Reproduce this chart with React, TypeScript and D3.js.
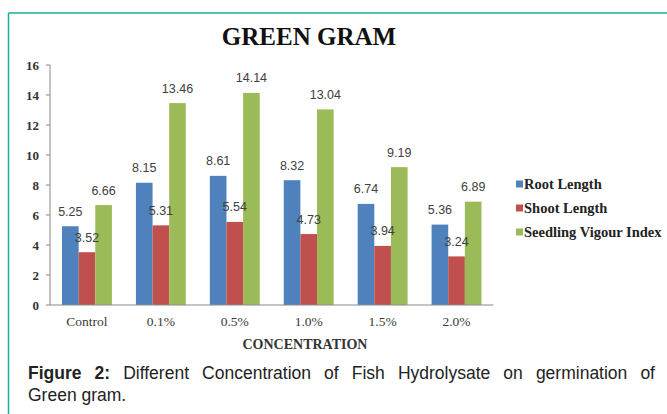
import { useEffect, useRef } from "react";
import * as d3 from "d3";

// Chart data
const categories = ["Control", "0.1%", "0.5%", "1.0%", "1.5%", "2.0%"];
const seriesNames = ["Root Length", "Shoot Length", "Seedling Vigour Index"];
const rootLength = [5.25, 8.15, 8.61, 8.32, 6.74, 5.36];
const shootLength = [3.52, 5.31, 5.54, 4.73, 3.94, 3.24];
const vigourIndex = [6.66, 13.46, 14.14, 13.04, 9.19, 6.89];
const yTicks = [0, 2, 4, 6, 8, 10, 12, 14, 16];
const colors = ["#4f81bd", "#c0504d", "#9bbb59"];

const seriesValues = [rootLength, shootLength, vigourIndex];

const W = 667;
const H = 414;
const serif = "'Liberation Serif', 'DejaVu Serif', serif";
const sans = "'Liberation Sans', Arial, sans-serif";

const App = () => {
  const captionRef = useRef<SVGTextElement>(null);

  const x0 = d3.scaleBand().domain(categories).range([50, 493.5]);
  const x1 = d3
    .scaleBand()
    .domain(seriesNames)
    .range([12, x0.bandwidth() - 12]);
  const y = d3.scaleLinear().domain([0, 16]).range([305, 65]);

  // justify first caption line by stretching word gaps
  useEffect(() => {
    const el = captionRef.current;
    if (!el) return;
    el.style.wordSpacing = "0px";
    const len = el.getComputedTextLength();
    const gaps = (el.textContent || "").split(" ").length - 1;
    el.style.wordSpacing = `${(627 - len) / gaps}px`;
  }, []);

  return (
    <svg
      width={W}
      height={H}
      style={{ position: "absolute", left: 0, top: 0, background: "#fff" }}
    >
      {/* frame */}
      <line x1={8.5} y1={13} x2={W} y2={13} stroke="#1aae94" strokeWidth={1.5} />
      <line x1={8.5} y1={13} x2={8.5} y2={H} stroke="#1aae94" strokeWidth={1.5} />

      {/* title */}
      <text
        x={309}
        y={45}
        textAnchor="middle"
        fontFamily={serif}
        fontWeight="bold"
        fontSize={25}
        fill="#111"
      >
        GREEN GRAM
      </text>

      {/* y axis */}
      <line x1={50} y1={y(16)} x2={50} y2={y(0)} stroke="#8a8a8a" />
      {yTicks.map((t) => (
        <g key={t}>
          <line x1={46} y1={y(t)} x2={50} y2={y(t)} stroke="#8a8a8a" />
          <text
            x={39}
            y={y(t)}
            dy="0.35em"
            textAnchor="end"
            fontFamily={serif}
            fontWeight="bold"
            fontSize={13}
            fill="#333"
          >
            {t}
          </text>
        </g>
      ))}

      {/* bars */}
      {categories.map((c, i) => (
        <g key={c} transform={`translate(${x0(c)},0)`}>
          {seriesNames.map((s, j) => {
            const v = seriesValues[j][i];
            return (
              <rect
                key={s}
                x={x1(s)}
                y={y(v)}
                width={x1.bandwidth()}
                height={y(0) - y(v)}
                fill={colors[j]}
              />
            );
          })}
        </g>
      ))}

      {/* x axis */}
      <line x1={50} y1={y(0)} x2={493.5} y2={y(0)} stroke="#8a8a8a" />

      {/* value labels */}
      {categories.map((c, i) =>
        seriesNames.map((s, j) => {
          const v = seriesValues[j][i];
          return (
            <text
              key={c + s}
              x={(x0(c) as number) + (x1(s) as number) + x1.bandwidth() / 2}
              y={y(v) - 10.5}
              textAnchor="middle"
              fontFamily={sans}
              fontSize={12.5}
              fill="#404040"
            >
              {v.toFixed(2)}
            </text>
          );
        })
      )}

      {/* category labels */}
      {categories.map((c) => (
        <text
          key={c}
          x={(x0(c) as number) + x0.bandwidth() / 2}
          y={326}
          textAnchor="middle"
          fontFamily={serif}
          fontSize={13.5}
          fill="#3a3a3a"
        >
          {c}
        </text>
      ))}
      <text
        x={305}
        y={349}
        textAnchor="middle"
        fontFamily={serif}
        fontWeight="bold"
        fontSize={14}
        fill="#333"
      >
        CONCENTRATION
      </text>

      {/* legend */}
      {seriesNames.map((s, j) => (
        <g key={s} transform={`translate(516,${184 + j * 24})`}>
          <rect x={0} y={-3.5} width={7} height={7} fill={colors[j]} />
          <text
            x={8}
            y={0}
            dy="0.35em"
            fontFamily={serif}
            fontWeight="bold"
            fontSize={14.5}
            fill="#222"
          >
            {s}
          </text>
        </g>
      ))}

      {/* caption */}
      <text ref={captionRef} x={28} y={379} fontFamily={sans} fontSize={17.5} fill="#222">
        <tspan fontWeight="bold">Figure 2:</tspan> Different Concentration of Fish
        Hydrolysate on germination of
      </text>
      <text x={28} y={401} fontFamily={sans} fontSize={17.5} fill="#222">
        Green gram.
      </text>
    </svg>
  );
};

export default App;
